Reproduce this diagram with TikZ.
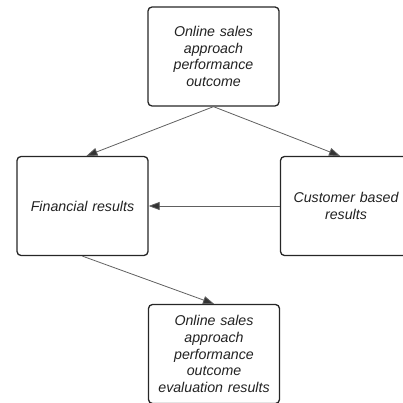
\documentclass[tikz,border=0pt]{standalone}
\usepackage{fontspec}
\setmainfont{Liberation Sans}
\usetikzlibrary{arrows.meta}
\definecolor{txt}{HTML}{222222}
\definecolor{conn}{HTML}{606060}
\begin{document}
\begin{tikzpicture}[x=1pt,y=-1pt,
  box/.style={draw=black!85, line width=1.3pt, rounded corners=4pt, minimum width=131pt, minimum height=99pt, text width=128pt, align=center, font=\fontsize{14.2}{16.8}\selectfont\itshape, text=txt, inner sep=0pt},
  conn/.style={draw=conn, line width=0.8pt, -{Triangle[length=11pt,width=8pt,fill=black!80]}}]
\useasboundingbox (0,0) rectangle (403,403);
\node[box] (top) at (213.5,56.5) {Online sales\\approach\\performance\\outcome};
\node[box] (fin) at (82.5,206) {Financial results};
\node[box] (cust) at (346,206) {Customer based\\results};
\node[box] (eval) at (214,354) {Online sales\\approach\\performance\\outcome\\evaluation results};
\draw[conn] (top.south) -- ([xshift=4pt]fin.north);
\draw[conn] (top.south) -- ([xshift=-6pt]cust.north);
\draw[conn] (cust.west) -- (fin.east);
\draw[conn] (fin.south) -- (eval.north);
\end{tikzpicture}
\end{document}
